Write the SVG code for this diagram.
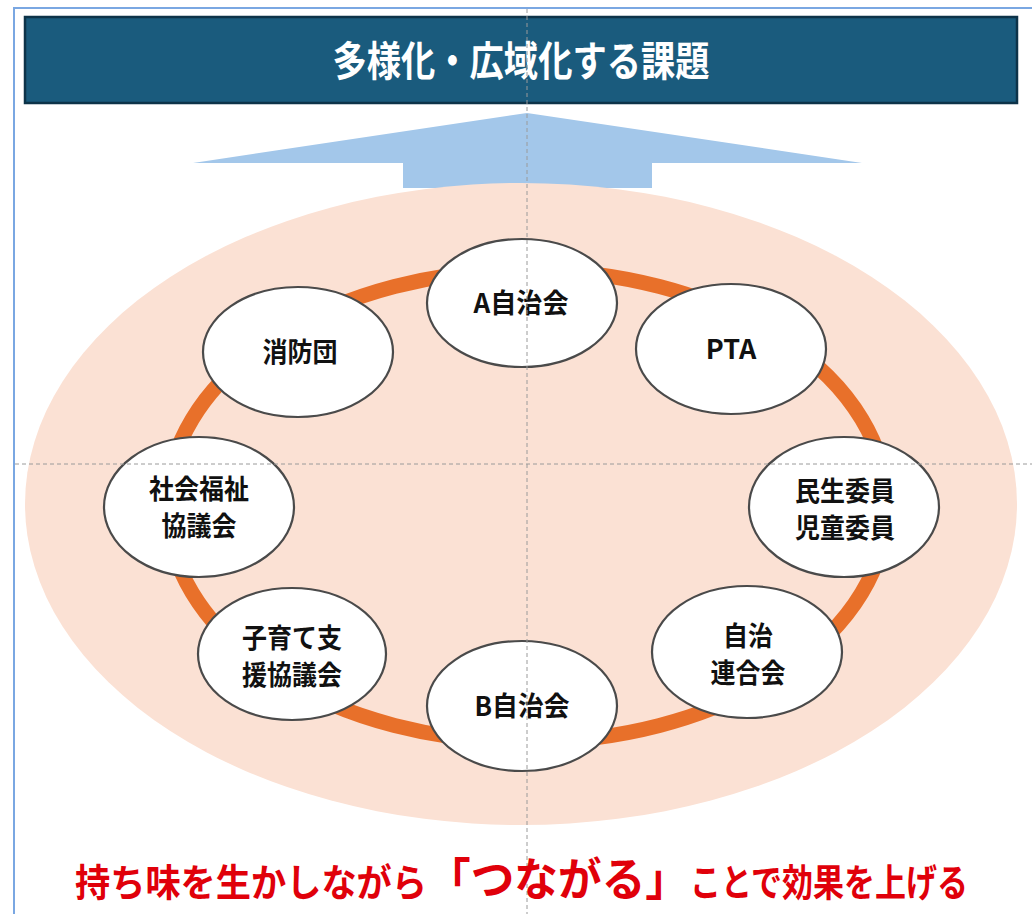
<svg xmlns="http://www.w3.org/2000/svg" width="1032" height="914" viewBox="0 0 1032 914">
<style>
.node ellipse{fill:#ffffff;stroke:#4a4a4a;stroke-width:2.2}
.lbl{font-family:"Noto Sans CJK JP","Liberation Sans",sans-serif;font-weight:bold;font-size:27px;fill:#111;text-anchor:middle}
.guide{stroke:#9a9a9a;stroke-width:1;stroke-dasharray:4 3;fill:none}
.cap{font-family:"Noto Sans CJK JP","Liberation Sans",sans-serif;font-weight:bold;fill:#e0000a}
</style>
<rect x="0" y="0" width="1032" height="914" fill="#ffffff"/>
<path d="M14 914 V8 H1032" fill="none" stroke="#7aa7e2" stroke-width="2"/>
<g id="title">
<rect x="25" y="17" width="992" height="86" fill="#1a5b7d" stroke="#0d3349" stroke-width="2.5"/>
<text x="521" y="76" font-family="Noto Sans CJK JP,Liberation Sans,sans-serif" font-weight="bold" font-size="41" fill="#ffffff" text-anchor="middle" textLength="377" lengthAdjust="spacingAndGlyphs">多様化・広域化する課題</text>
</g>
<g id="arrow">
<polygon points="527,113 862,163 652,163 652,188 403,188 403,163 193,163" fill="#a3c7ea"/>
</g>
<g id="background">
<ellipse cx="521" cy="504" rx="496" ry="321" fill="#fbe1d4"/>
</g>
<g id="connectors">
<ellipse cx="527" cy="506" rx="360" ry="236" fill="none" stroke="#e8702a" stroke-width="15"/>
</g>
<g id="n-a" class="node"><ellipse cx="522" cy="303" rx="95" ry="64"/><text class="lbl" x="521" y="313" textLength="95" lengthAdjust="spacingAndGlyphs">A自治会</text></g>
<g id="n-pta" class="node"><ellipse cx="731" cy="349" rx="95" ry="65"/><text class="lbl" x="731" y="359">PTA</text></g>
<g id="n-shobo" class="node"><ellipse cx="298" cy="352" rx="95" ry="65"/><text class="lbl" x="300" y="362" textLength="75" lengthAdjust="spacingAndGlyphs">消防団</text></g>
<g id="n-shakyo" class="node"><ellipse cx="199" cy="507" rx="95" ry="70"/><text class="lbl" x="199" y="499" textLength="100" lengthAdjust="spacingAndGlyphs">社会福祉</text><text class="lbl" x="199" y="536" textLength="75" lengthAdjust="spacingAndGlyphs">協議会</text></g>
<g id="n-minsei" class="node"><ellipse cx="844" cy="507" rx="95" ry="70"/><text class="lbl" x="845" y="501" textLength="100" lengthAdjust="spacingAndGlyphs">民生委員</text><text class="lbl" x="845" y="538" textLength="100" lengthAdjust="spacingAndGlyphs">児童委員</text></g>
<g id="n-kosodate" class="node"><ellipse cx="292" cy="654" rx="94" ry="66"/><text class="lbl" x="292" y="648" textLength="100" lengthAdjust="spacingAndGlyphs">子育て支</text><text class="lbl" x="292" y="685" textLength="100" lengthAdjust="spacingAndGlyphs">援協議会</text></g>
<g id="n-rengo" class="node"><ellipse cx="747" cy="652" rx="95" ry="66"/><text class="lbl" x="748" y="646" textLength="50" lengthAdjust="spacingAndGlyphs">自治</text><text class="lbl" x="748" y="683" textLength="75" lengthAdjust="spacingAndGlyphs">連合会</text></g>
<g id="n-b" class="node"><ellipse cx="522" cy="706" rx="95" ry="65"/><text class="lbl" x="522" y="716" textLength="95" lengthAdjust="spacingAndGlyphs">B自治会</text></g>
<g id="guides">
<line class="guide" x1="527" y1="9" x2="527" y2="914"/>
<line class="guide" x1="15" y1="464" x2="1032" y2="464"/>
</g>
<g id="caption">
<text class="cap" x="75" y="896" font-size="38" textLength="352" lengthAdjust="spacingAndGlyphs">持ち味を生かしながら</text>
<text class="cap" x="427" y="896" font-size="45" textLength="262" lengthAdjust="spacingAndGlyphs">「つながる」</text>
<text class="cap" x="690" y="896" font-size="38" textLength="278" lengthAdjust="spacingAndGlyphs">ことで効果を上げる</text>
</g>
</svg>
